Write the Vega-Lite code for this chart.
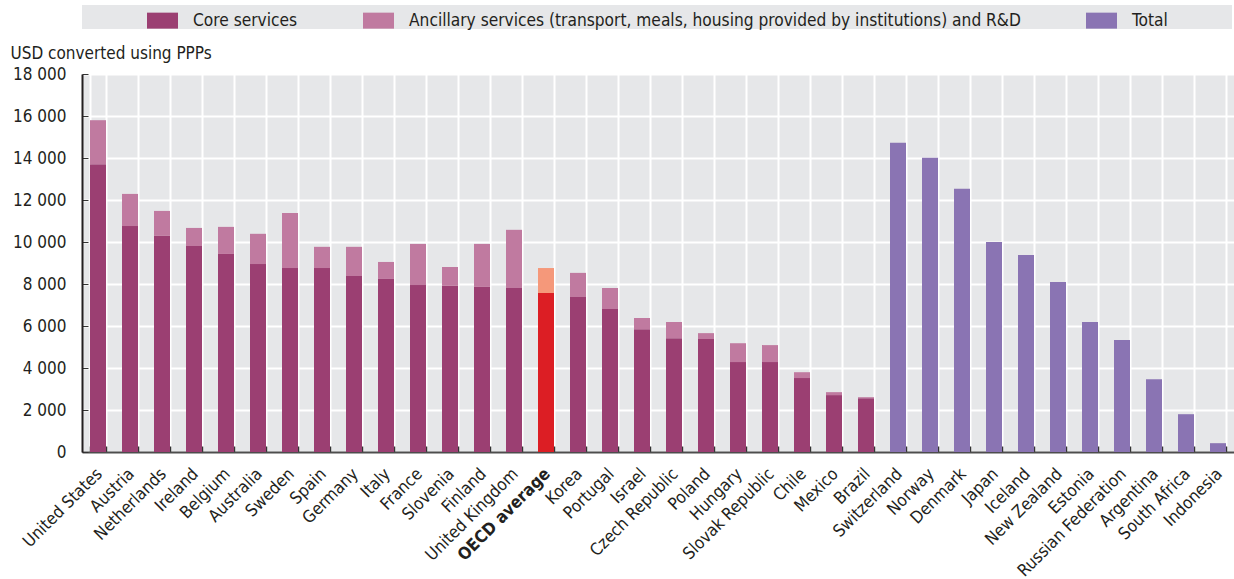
{
  "$schema": "https://vega.github.io/schema/vega-lite/v6.json",
  "width": 1152,
  "height": 378,
  "autosize": {"type": "none"},
  "padding": {"left": 82, "top": 74, "right": 0, "bottom": 127},
  "background": "white",
  "config": {
    "view": {"fill": "#e6e7e9", "stroke": null},
    "font": "DejaVu Sans Condensed, Roboto Condensed, Liberation Sans Narrow, Liberation Sans, sans-serif",
    "axis": {"labelFont": "DejaVu Sans Condensed, Roboto Condensed, Liberation Sans Narrow, Liberation Sans, sans-serif", "titleFont": "DejaVu Sans Condensed, Roboto Condensed, Liberation Sans Narrow, Liberation Sans, sans-serif", "labelColor": "#231f20", "titleColor": "#231f20"},
    "legend": {"labelFont": "DejaVu Sans Condensed, Roboto Condensed, Liberation Sans Narrow, Liberation Sans, sans-serif", "titleFont": "DejaVu Sans Condensed, Roboto Condensed, Liberation Sans Narrow, Liberation Sans, sans-serif"}
  },
  "data": {
    "values": [
      {"country": "United States", "component": "Core services", "value": 13700},
      {"country": "United States", "component": "Ancillary services (transport, meals, housing provided by institutions) and R&D", "value": 2100},
      {"country": "Austria", "component": "Core services", "value": 10760},
      {"country": "Austria", "component": "Ancillary services (transport, meals, housing provided by institutions) and R&D", "value": 1530},
      {"country": "Netherlands", "component": "Core services", "value": 10290},
      {"country": "Netherlands", "component": "Ancillary services (transport, meals, housing provided by institutions) and R&D", "value": 1190},
      {"country": "Ireland", "component": "Core services", "value": 9810},
      {"country": "Ireland", "component": "Ancillary services (transport, meals, housing provided by institutions) and R&D", "value": 860},
      {"country": "Belgium", "component": "Core services", "value": 9430},
      {"country": "Belgium", "component": "Ancillary services (transport, meals, housing provided by institutions) and R&D", "value": 1290},
      {"country": "Australia", "component": "Core services", "value": 8950},
      {"country": "Australia", "component": "Ancillary services (transport, meals, housing provided by institutions) and R&D", "value": 1440},
      {"country": "Sweden", "component": "Core services", "value": 8760},
      {"country": "Sweden", "component": "Ancillary services (transport, meals, housing provided by institutions) and R&D", "value": 2620},
      {"country": "Spain", "component": "Core services", "value": 8760},
      {"country": "Spain", "component": "Ancillary services (transport, meals, housing provided by institutions) and R&D", "value": 1010},
      {"country": "Germany", "component": "Core services", "value": 8380},
      {"country": "Germany", "component": "Ancillary services (transport, meals, housing provided by institutions) and R&D", "value": 1390},
      {"country": "Italy", "component": "Core services", "value": 8240},
      {"country": "Italy", "component": "Ancillary services (transport, meals, housing provided by institutions) and R&D", "value": 810},
      {"country": "France", "component": "Core services", "value": 7950},
      {"country": "France", "component": "Ancillary services (transport, meals, housing provided by institutions) and R&D", "value": 1960},
      {"country": "Slovenia", "component": "Core services", "value": 7910},
      {"country": "Slovenia", "component": "Ancillary services (transport, meals, housing provided by institutions) and R&D", "value": 900},
      {"country": "Finland", "component": "Core services", "value": 7860},
      {"country": "Finland", "component": "Ancillary services (transport, meals, housing provided by institutions) and R&D", "value": 2050},
      {"country": "United Kingdom", "component": "Core services", "value": 7810},
      {"country": "United Kingdom", "component": "Ancillary services (transport, meals, housing provided by institutions) and R&D", "value": 2770},
      {"country": "OECD average", "component": "Core services", "value": 7570},
      {"country": "OECD average", "component": "Ancillary services (transport, meals, housing provided by institutions) and R&D", "value": 1190},
      {"country": "Korea", "component": "Core services", "value": 7380},
      {"country": "Korea", "component": "Ancillary services (transport, meals, housing provided by institutions) and R&D", "value": 1150},
      {"country": "Portugal", "component": "Core services", "value": 6810},
      {"country": "Portugal", "component": "Ancillary services (transport, meals, housing provided by institutions) and R&D", "value": 1000},
      {"country": "Israel", "component": "Core services", "value": 5850},
      {"country": "Israel", "component": "Ancillary services (transport, meals, housing provided by institutions) and R&D", "value": 530},
      {"country": "Czech Republic", "component": "Core services", "value": 5420},
      {"country": "Czech Republic", "component": "Ancillary services (transport, meals, housing provided by institutions) and R&D", "value": 770},
      {"country": "Poland", "component": "Core services", "value": 5380},
      {"country": "Poland", "component": "Ancillary services (transport, meals, housing provided by institutions) and R&D", "value": 280},
      {"country": "Hungary", "component": "Core services", "value": 4280},
      {"country": "Hungary", "component": "Ancillary services (transport, meals, housing provided by institutions) and R&D", "value": 900},
      {"country": "Slovak Republic", "component": "Core services", "value": 4280},
      {"country": "Slovak Republic", "component": "Ancillary services (transport, meals, housing provided by institutions) and R&D", "value": 810},
      {"country": "Chile", "component": "Core services", "value": 3520},
      {"country": "Chile", "component": "Ancillary services (transport, meals, housing provided by institutions) and R&D", "value": 280},
      {"country": "Mexico", "component": "Core services", "value": 2710},
      {"country": "Mexico", "component": "Ancillary services (transport, meals, housing provided by institutions) and R&D", "value": 140},
      {"country": "Brazil", "component": "Core services", "value": 2560},
      {"country": "Brazil", "component": "Ancillary services (transport, meals, housing provided by institutions) and R&D", "value": 50},
      {"country": "Switzerland", "component": "Total", "value": 14730},
      {"country": "Norway", "component": "Total", "value": 14010},
      {"country": "Denmark", "component": "Total", "value": 12530},
      {"country": "Japan", "component": "Total", "value": 10000},
      {"country": "Iceland", "component": "Total", "value": 9380},
      {"country": "New Zealand", "component": "Total", "value": 8100},
      {"country": "Estonia", "component": "Total", "value": 6190},
      {"country": "Russian Federation", "component": "Total", "value": 5330},
      {"country": "Argentina", "component": "Total", "value": 3470},
      {"country": "South Africa", "component": "Total", "value": 1800},
      {"country": "Indonesia", "component": "Total", "value": 420}
    ]
  },
  "mark": {"type": "bar"},
  "encoding": {
    "x": {
      "field": "country",
      "type": "nominal",
      "sort": null,
      "scale": {"paddingInner": 0.5, "paddingOuter": 0.25},
      "axis": {
        "title": null,
        "labelAngle": -45,
        "labelAlign": "right",
        "labelBaseline": "middle",
        "labelFontSize": 17,
        "labelOffset": 1,
        "labelPadding": 25,
        "labelLimit": 0,
        "tickBand": "extent",
        "grid": true,
        "gridColor": "white",
        "gridWidth": 2,
        "tickSize": -6,
        "tickColor": "#333333",
        "tickWidth": 1.5,
        "domainColor": "#4d4d4d",
        "domainWidth": 2,
        "labelFontWeight": {"condition": {"test": "datum.value === 'OECD average'", "value": "bold"}, "value": "normal"}
      }
    },
    "y": {
      "field": "value",
      "type": "quantitative",
      "stack": "zero",
      "scale": {"domain": [0, 18000], "nice": false},
      "axis": {
        "title": "USD converted using PPPs",
        "titleAngle": 0,
        "titleAlign": "left",
        "titleBaseline": "alphabetic",
        "titleX": -72,
        "titleY": -16,
        "titleFontSize": 17,
        "titleFontWeight": "normal",
        "values": [0, 2000, 4000, 6000, 8000, 10000, 12000, 14000, 16000, 18000],
        "labelExpr": "replace(format(datum.value, ','), ',', ' ')",
        "labelFontSize": 17,
        "labelPadding": 22,
        "tickSize": -6,
        "tickColor": "#333333",
        "domainColor": "#231f20",
        "domainWidth": 2,
        "gridColor": "white",
        "gridWidth": 2
      }
    },
    "color": {
      "condition": [
        {"test": "datum.country === 'OECD average' && datum.component === 'Core services'", "value": "#dc1e24"},
        {"test": "datum.country === 'OECD average'", "value": "#f5987a"}
      ],
      "field": "component",
      "type": "nominal",
      "scale": {
        "domain": ["Core services", "Ancillary services (transport, meals, housing provided by institutions) and R&D", "Total"],
        "range": ["#9b3f72", "#c07aa0", "#8a74b3"]
      },
      "legend": {
        "orient": "none",
        "legendX": 0,
        "legendY": -69,
        "direction": "horizontal",
        "title": "\u2800\u2800\u2800\u2800\u2800\u2800",
        "titleOrient": "right",
        "titleFontSize": 15,
        "titlePadding": 0,
        "fillColor": "#e6e7e9",
        "padding": 0,
        "symbolType": "M-1,-0.516H1V0.516H-1Z",
        "symbolSize": 961,
        "symbolStrokeWidth": 0,
        "symbolOffset": 65,
        "labelOffset": 15,
        "columnPadding": 0,
        "labelFontSize": 17.2,
        "labelColor": "#231f20",
        "labelLimit": 0
      }
    },
    "order": {"field": "component", "sort": "descending"}
  }
}
